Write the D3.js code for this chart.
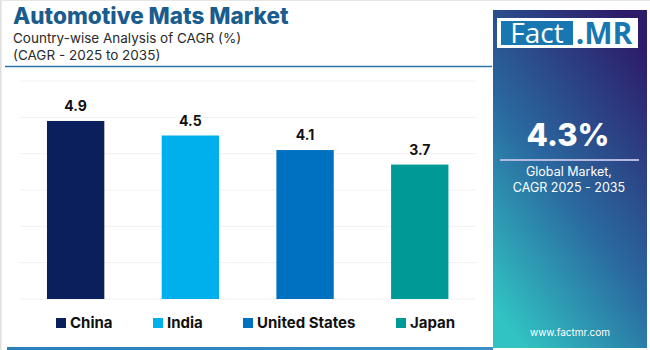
<!DOCTYPE html>
<html>
<head>
<meta charset="utf-8">
<script src="https://cdn.jsdelivr.net/npm/d3@7"></script>
<style>
  html, body { margin: 0; padding: 0; background: #fff; }
  svg { display: block; font-family: "Inter", "Open Sans", sans-serif; }
</style>
</head>
<body>
<div id="chart"></div>
<script>
const countries = ["China", "India", "United States", "Japan"];
const cagr = [4.9, 4.5, 4.1, 3.7];
const barColors = ["#0b1f5c", "#00b0ec", "#0070c0", "#009a96"];
const gridTicks = [0, 1, 2, 3, 4, 5, 6];
const globalCagr = "4.3%";

const width = 650, height = 350;
const svg = d3.select("#chart").append("svg").attr("width", width).attr("height", height);

// page frame
svg.append("rect").attr("width", width).attr("height", height).attr("fill", "#fff");
svg.append("line").attr("x1", 0.5).attr("x2", 0.5).attr("y1", 0).attr("y2", height).attr("stroke", "#dedede").attr("stroke-width", 2);
svg.append("line").attr("x1", 0).attr("x2", width).attr("y1", 0.5).attr("y2", 0.5).attr("stroke", "#e6e6e6").attr("stroke-width", 1);

// title block
svg.append("text").attr("x", 13).attr("y", 24).attr("font-size", 22.5).attr("font-weight", 800)
  .attr("fill", "#1b5c8e").text("Automotive Mats Market");
svg.append("text").attr("x", 13).attr("y", 43).attr("font-size", 13.5).attr("fill", "#2a2a2a")
  .text("Country-wise Analysis of CAGR (%)");
svg.append("text").attr("x", 13).attr("y", 59.5).attr("font-size", 13.5).attr("fill", "#2a2a2a")
  .text("(CAGR - 2025 to 2035)");
svg.append("line").attr("x1", 5).attr("x2", 492).attr("y1", 66.5).attr("y2", 66.5)
  .attr("stroke", "#2f74a8").attr("stroke-width", 1.5);

// bottom accent line
const defs = svg.append("defs");
const lg = defs.append("linearGradient").attr("id", "bottomLine");
lg.append("stop").attr("offset", "0%").attr("stop-color", "#2a7fb8");
lg.append("stop").attr("offset", "100%").attr("stop-color", "#3b8fc4");
svg.append("rect").attr("x", 7).attr("y", 347).attr("width", 486).attr("height", 3).attr("fill", "url(#bottomLine)");

// scales
const x = d3.scaleBand().domain(countries).range([18.3, 477.1]).paddingInner(0.5).paddingOuter(0.25);
const y = d3.scaleLinear().domain([0, 6]).range([299, 81]);

svg.append("g").selectAll("line").data(gridTicks).enter().append("line")
  .attr("x1", 20).attr("x2", 476)
  .attr("y1", d => y(d)).attr("y2", d => y(d))
  .attr("stroke", "#f2f0f5").attr("stroke-width", 1);

const data = countries.map((c, i) => ({ country: c, value: cagr[i], color: barColors[i] }));

svg.append("g").selectAll("rect").data(data).enter().append("rect")
  .attr("x", d => x(d.country))
  .attr("width", x.bandwidth())
  .attr("y", d => y(d.value))
  .attr("height", d => y(0) - y(d.value))
  .attr("fill", d => d.color);

svg.append("g").selectAll("text").data(data).enter().append("text")
  .attr("x", d => x(d.country) + x.bandwidth() / 2)
  .attr("y", d => y(d.value) - 10)
  .attr("text-anchor", "middle")
  .attr("font-size", 14).attr("font-weight", 700).attr("fill", "#111")
  .text(d => d.value.toFixed(1));

// legend
const legendX = [56, 153, 243, 396];
const legend = svg.append("g").selectAll("g").data(data).enter().append("g")
  .attr("transform", (d, i) => `translate(${legendX[i]}, 318)`);
legend.append("rect").attr("width", 10).attr("height", 10).attr("fill", d => d.color);
legend.append("text").attr("x", 14).attr("y", 9.5).attr("font-size", 15).attr("font-weight", 700)
  .attr("fill", "#111").text(d => d.country);

// right panel
const pg = defs.append("linearGradient").attr("id", "panelGrad")
  .attr("x1", "0.2").attr("y1", "1").attr("x2", "0.8").attr("y2", "0");
pg.append("stop").attr("offset", "0%").attr("stop-color", "#31c3c3");
pg.append("stop").attr("offset", "45%").attr("stop-color", "#2a6aa0");
pg.append("stop").attr("offset", "100%").attr("stop-color", "#2d1b69");
svg.append("rect").attr("x", 493).attr("y", 10).attr("width", 154).attr("height", 338).attr("fill", "url(#panelGrad)");

// logo
svg.append("rect").attr("x", 497).attr("y", 18).attr("width", 141).attr("height", 30).attr("fill", "#fff");
svg.append("rect").attr("x", 501).attr("y", 21).attr("width", 72).attr("height", 24).attr("fill", "#1877b1");
svg.append("text").attr("x", 537).attr("y", 43).attr("text-anchor", "middle").attr("font-size", 28)
  .attr("fill", "#fff").attr("font-family", "Open Sans, sans-serif").text("Fact");
svg.append("text").attr("x", 604).attr("y", 43.5).attr("text-anchor", "middle").attr("font-size", 30)
  .attr("font-weight", 700).attr("fill", "#1877b1").attr("font-family", "Open Sans, sans-serif").text(".MR");

svg.append("text").attr("x", 568).attr("y", 146).attr("text-anchor", "middle").attr("font-size", 31)
  .attr("font-weight", 800).attr("fill", "#fff").text(globalCagr);
svg.append("line").attr("x1", 500).attr("x2", 639).attr("y1", 160).attr("y2", 160)
  .attr("stroke", "#b4b8e0").attr("stroke-width", 2);
svg.append("text").attr("x", 569).attr("y", 176).attr("text-anchor", "middle").attr("font-size", 12.5)
  .attr("fill", "#fff").text("Global Market,");
svg.append("text").attr("x", 569).attr("y", 192).attr("text-anchor", "middle").attr("font-size", 12.5)
  .attr("fill", "#fff").text("CAGR 2025 - 2035");
svg.append("text").attr("x", 570).attr("y", 336).attr("text-anchor", "middle").attr("font-size", 10)
  .attr("fill", "#fff").text("www.factmr.com");
</script>
</body>
</html>
